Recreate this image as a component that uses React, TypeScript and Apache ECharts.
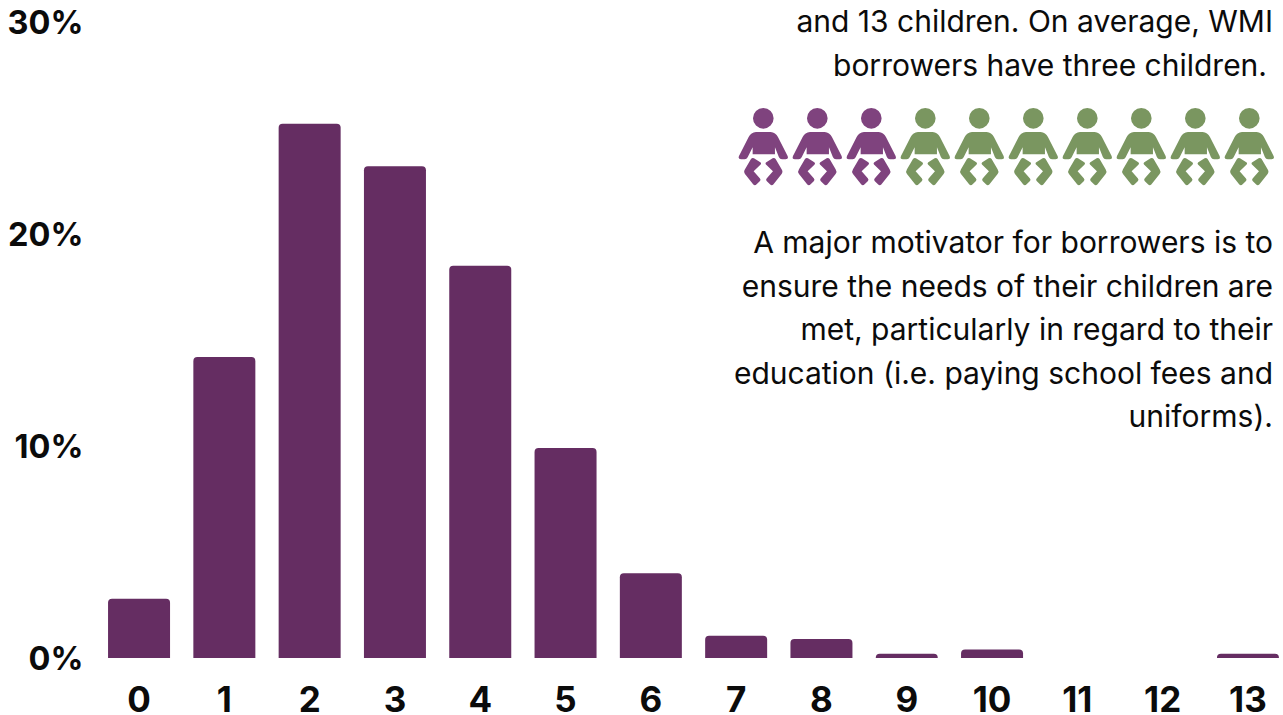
import React, { useEffect, useRef } from "react";
import * as echarts from "echarts";

const categories = ["0", "1", "2", "3", "4", "5", "6", "7", "8", "9", "10", "11", "12", "13"];
const shareOfBorrowers = [2.8, 14.2, 25.2, 23.2, 18.5, 9.9, 4.0, 1.05, 0.9, 0.2, 0.4, 0, 0, 0.2];
const introLines = ["and 13 children. On average, WMI", "borrowers have three children."];
const motivatorLines = [
  "A major motivator for borrowers is to",
  "ensure the needs of their children are",
  "met, particularly in regard to their",
  "education (i.e. paying school fees and",
  "uniforms).",
];
const averageChildren = 3;
const iconCount = 10;

const BAR = "#652d62";
const PURPLE = "#7f437e";
const GREEN = "#7a9660";
const INK = "#0b0b0b";
const FONT = "Inter";

// Seated baby pictogram: head, torso with arms, and two bent legs.
const babyPath =
  "M69 55 A31 31 0 1 1 131 55 A31 31 0 1 1 69 55 Z " +
  "M78 96 L122 96 Q137 97 144 111 L173 168 Q177 178 167 178 L156 178 Q150 178 147 172 L135 142 L135 163 L68 163 L68 142 L53 172 Q50 178 44 178 L33 178 Q23 178 27 168 L56 111 Q63 97 78 96 Z " +
  "M63 177 Q67 172 72 175 L91 187 Q95 190 92 194 L71 214 L90 236 Q93 240 90 243 L80 253 Q75 258 70 254 L45 222 Q40 215 45 208 Z " +
  "M137 177 Q133 172 128 175 L109 187 Q105 190 108 194 L129 214 L110 236 Q107 240 110 243 L120 253 Q125 258 130 254 L155 222 Q160 215 155 208 Z";
echarts.graphic.registerShape("babyIcon", echarts.graphic.extendPath(babyPath as any, {}) as any);

export default function App() {
  const ref = useRef<HTMLDivElement>(null);

  useEffect(() => {
    document.body.style.margin = "0";
    const chart = echarts.init(ref.current!, null, { renderer: "svg" });

    const textLine = (text: string, x: number, y: number) => ({
      type: "text",
      x,
      y,
      style: {
        text,
        fill: INK,
        font: `400 30px ${FONT}`,
        textAlign: "right",
        textVerticalAlign: "middle",
      },
    });

    const icons = Array.from({ length: iconCount }, (_, i) => ({
      type: "babyIcon",
      x: 730 + i * 54,
      y: 100,
      scaleX: 1 / 3,
      scaleY: 1 / 3,
      style: { fill: i < averageChildren ? PURPLE : GREEN },
    }));

    chart.setOption({
      animation: false,
      backgroundColor: "#ffffff",
      grid: { left: 96.4, width: 1194.2, top: 22, height: 636, outerBoundsMode: "none" },
      xAxis: {
        type: "category",
        data: categories,
        axisLine: { show: false },
        axisTick: { show: false },
        axisLabel: {
          color: INK,
          fontFamily: FONT,
          fontWeight: 700,
          fontSize: 35,
          lineHeight: 30,
          margin: 26,
          interval: 0,
        },
      },
      yAxis: {
        type: "value",
        min: 0,
        max: 30,
        interval: 10,
        splitLine: { show: false },
        axisLine: { show: false },
        axisTick: { show: false },
        axisLabel: {
          color: INK,
          fontFamily: FONT,
          fontWeight: 700,
          fontSize: 32.5,
          margin: 13,
          padding: [4, 0, 0, 0],
          formatter: "{value}%",
        },
      },
      series: [
        {
          type: "bar",
          data: shareOfBorrowers,
          barWidth: 62,
          itemStyle: { color: BAR, borderRadius: [4, 4, 0, 0] },
        },
      ],
      graphic: [
        ...introLines.map((t, i) => textLine(t, i === 0 ? 1273 : 1267, 21 + i * 44)),
        ...icons,
        ...motivatorLines.map((t, i) => textLine(t, 1273, 242 + i * 43.6)),
      ],
    });

    return () => chart.dispose();
  }, []);

  return <div ref={ref} style={{ width: 1283, height: 715 }} />;
}
